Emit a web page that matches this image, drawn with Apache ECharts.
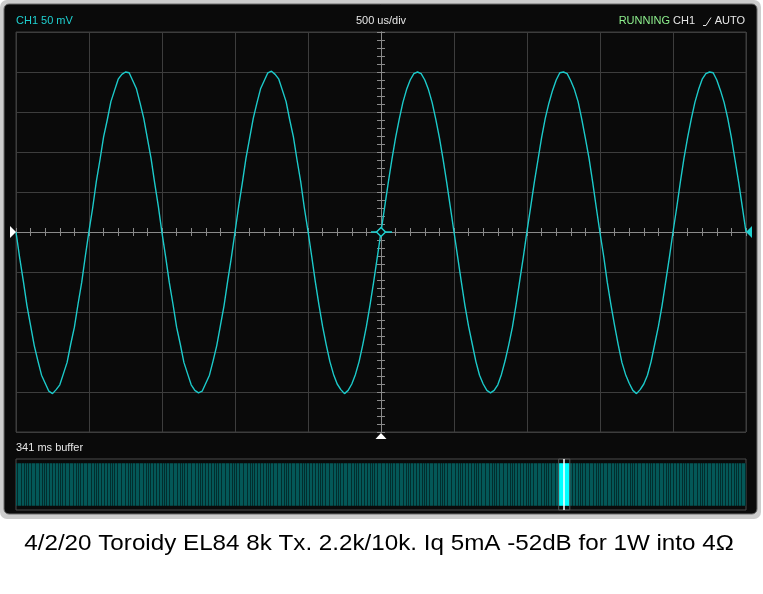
<!DOCTYPE html>
<html><head><meta charset="utf-8">
<script src="https://cdn.jsdelivr.net/npm/echarts@6/dist/echarts.min.js"></script>
<style>html,body{margin:0;padding:0;background:#fff}#c{width:763px;height:594px}</style>
</head><body><div id="c"></div>
<script>
// ---- data ----
const channelLabel = 'CH1 50 mV';
const timebaseLabel = '500 us/div';
const statusLabel = 'RUNNING';
const triggerLabelA = 'CH1';
const triggerLabelB = 'AUTO';
const bufferLabel = '341 ms buffer';
const caption = '4/2/20 Toroidy EL84 8k Tx. 2.2k/10k. Iq 5mA -52dB for 1W into 4Ω';

const timeStartMs = -2.5;      // left edge of screen
const sampleStepMs = 0.025;    // one reading every 25 us
const ch1mV = [
  0,-32,-61,-92,-117,-142,-161,-179,-189,-199,-202,-197,-191,-177,-163,-140,-119,-90,-63,-30,
  1,30,63,90,119,140,163,177,191,197,200,199,189,179,161,142,117,92,61,32,
  -1,-31,-63,-90,-119,-140,-163,-177,-191,-198,-201,-199,-189,-179,-161,-142,-117,-92,-61,-32,
  0,32,61,92,117,142,161,179,189,199,201,197,191,177,163,140,119,90,63,30,
  1,-30,-62,-91,-118,-141,-162,-178,-190,-197,-202,-198,-190,-178,-162,-141,-118,-91,-62,-31,
  0,31,62,91,118,141,162,178,190,198,200,198,190,178,162,141,118,91,62,31,
  0,-31,-62,-92,-118,-140,-162,-179,-190,-198,-201,-198,-191,-178,-161,-141,-119,-91,-61,-31,
  1,31,62,90,118,142,161,177,190,199,200,198,189,178,163,141,117,92,62,30,
  -1,-30,-63,-91,-117,-141,-163,-178,-189,-198,-202,-197,-190,-179,-162,-140,-118,-92,-62,-32,
  0,30,62,92,118,141,162,178,191,198,200,199,190,177,162,142,118,90,62,31,
  0
];
const timeAxis = [-2.5, 2.5, 0.5];   // min, max, ms per division
const voltAxis = [-250, 250, 50];    // min, max, mV per division
const triggerTimeMs = 0;
const triggerLevelmV = 0;

const bufferLengthMs = 341;
const bufferAmplitude = [-200, 200];
const bufferAxis = [-240, 240];
const viewWindowMs = [253.6, 258.6];
const bufferTriggerMs = 256.1;

// ---- styles ----
const TRACE = '#1ccaca';
const GRIDC = '#3d3d3d';
const AXISC = '#8a8a8a';
const FONT = '"Liberation Sans", Arial, sans-serif';

function stripePattern(){
  const c = document.createElement('canvas'); c.width = 52; c.height = 4;
  const g = c.getContext('2d');
  g.fillStyle = '#045858'; g.fillRect(0,0,52,4);
  g.fillStyle = '#022e2e';
  [0,3,6,8,10,13,17,21,24,26,28,31,35,39,42,44,46,49].forEach(x => g.fillRect(x,0,1,4));
  return c;
}

const traceData = ch1mV.map((v,i) => [timeStartMs + i*sampleStepMs, v]);

function centerAxisX(inside){
  return {type:'value', gridIndex:0, min:timeAxis[0], max:timeAxis[1], interval:timeAxis[2], position:'bottom',
    axisLabel:{show:false},
    axisLine:{show:true, onZero:true, lineStyle:{color:AXISC, width:1}},
    axisTick:{show:true, inside:inside, length:4, lineStyle:{color:AXISC}},
    minorTick:{show:true, splitNumber:5, length:4, lineStyle:{color:AXISC}},
    splitLine:{show:inside, lineStyle:{color:GRIDC, width:1}}};
}
function centerAxisY(inside){
  return {type:'value', gridIndex:0, min:voltAxis[0], max:voltAxis[1], interval:voltAxis[2], position:'left',
    axisLabel:{show:false},
    axisLine:{show:true, onZero:true, lineStyle:{color:AXISC, width:1}},
    axisTick:{show:true, inside:inside, length:4, lineStyle:{color:AXISC}},
    minorTick:{show:true, splitNumber:5, length:4, lineStyle:{color:AXISC}},
    splitLine:{show:inside, lineStyle:{color:GRIDC, width:1}}};
}

const chart = echarts.init(document.getElementById('c'), null, {renderer:'canvas'});
chart.setOption({
  backgroundColor:'#ffffff',
  animation:false,
  grid:[
    {left:16, top:32, width:730, height:400, show:true, borderColor:GRIDC, borderWidth:1, backgroundColor:'transparent'},
    {left:16, top:459, width:730, height:51, show:true, borderColor:'#4a4a4a', borderWidth:1, backgroundColor:'transparent'}
  ],
  xAxis:[
    centerAxisX(true), centerAxisX(false),
    {type:'value', gridIndex:1, min:0, max:bufferLengthMs, show:false}
  ],
  yAxis:[
    centerAxisY(true), centerAxisY(false),
    {type:'value', gridIndex:1, min:bufferAxis[0], max:bufferAxis[1], show:false}
  ],
  series:[
    {type:'line', xAxisIndex:0, yAxisIndex:0, data:traceData, showSymbol:false, smooth:false, z:5,
     lineStyle:{color:TRACE, width:1.4}},
    {type:'line', xAxisIndex:2, yAxisIndex:2, data:[[0,0],[bufferLengthMs,0]], showSymbol:false,
     lineStyle:{opacity:0}, silent:true,
     markArea:{silent:true, data:[
       [{xAxis:0, yAxis:bufferAmplitude[0], itemStyle:{color:{image:stripePattern(), repeat:'repeat'}}},
        {xAxis:bufferLengthMs, yAxis:bufferAmplitude[1]}],
       [{xAxis:viewWindowMs[0], yAxis:bufferAmplitude[0], itemStyle:{color:'#00ffff'}},
        {xAxis:viewWindowMs[1], yAxis:bufferAmplitude[1]}],
       [{xAxis:viewWindowMs[0]-0.1, yAxis:bufferAxis[0], itemStyle:{color:'rgba(0,0,0,0)', borderColor:'#555', borderWidth:1}},
        {xAxis:viewWindowMs[1]+0.1, yAxis:bufferAxis[1]}]
     ]},
     markLine:{silent:true, symbol:'none', label:{show:false},
       lineStyle:{color:'#ffffff', width:1.5, type:'solid'},
       data:[[{coord:[bufferTriggerMs, bufferAxis[0]]},{coord:[bufferTriggerMs, bufferAxis[1]]}]]}
    }
  ],
  graphic:{elements:[
    {id:'frameOuter', type:'rect', z:-10, shape:{x:0,y:0,width:761,height:519,r:7}, style:{fill:'#cdcdcd'}},
    {id:'frameInner', type:'rect', z:-9, shape:{x:4,y:4,width:753,height:510,r:5}, style:{fill:'#0a0a0a', stroke:'#6a6a6a', lineWidth:1}},
    {id:'tCh', type:'text', z:10, x:16, y:21, style:{text:channelLabel, font:'11px '+FONT, fill:'#1fd0d0', verticalAlign:'middle'}},
    {id:'tTb', type:'text', z:10, x:381, y:21, style:{text:timebaseLabel, font:'11px '+FONT, fill:'#e6e6e6', align:'center', verticalAlign:'middle'}},
    {id:'tRun', type:'text', z:10, x:670, y:21, style:{text:statusLabel, font:'11px '+FONT, fill:'#8ef08e', align:'right', verticalAlign:'middle'}},
    {id:'tCh1', type:'text', z:10, x:695, y:21, style:{text:triggerLabelA, font:'11px '+FONT, fill:'#e6e6e6', align:'right', verticalAlign:'middle'}},
    {id:'tSlope', type:'polyline', z:10, shape:{points:[[703,25.5],[706,25.5],[711,17.5]]}, style:{stroke:'#e6e6e6', lineWidth:1, fill:null}},
    {id:'tAuto', type:'text', z:10, x:745, y:21, style:{text:triggerLabelB, font:'11px '+FONT, fill:'#e6e6e6', align:'right', verticalAlign:'middle'}},
    {id:'tBuf', type:'text', z:10, x:16, y:448, style:{text:bufferLabel, font:'11px '+FONT, fill:'#e6e6e6', verticalAlign:'middle'}},
    {id:'cap', type:'text', z:10, x:379, y:544, scaleX:1.1, scaleY:1.0, originX:0, originY:0,
     style:{text:caption, font:'22px '+FONT, fill:'#000', align:'center', verticalAlign:'middle'}}
  ]}
});

// markers placed through the axes' own scale
const pL = chart.convertToPixel({gridIndex:0}, [timeAxis[0], 0]);
const pR = chart.convertToPixel({gridIndex:0}, [timeAxis[1], triggerLevelmV]);
const pB = chart.convertToPixel({gridIndex:0}, [triggerTimeMs, voltAxis[0]]);
const pC = chart.convertToPixel({gridIndex:0}, [triggerTimeMs, triggerLevelmV]);
chart.setOption({graphic:{elements:[
  {id:'mL', type:'polygon', z:20, shape:{points:[[pL[0]-6,pL[1]-6],[pL[0],pL[1]],[pL[0]-6,pL[1]+6]]}, style:{fill:'#ffffff'}},
  {id:'mR', type:'polygon', z:20, shape:{points:[[pR[0]+6,pR[1]-6],[pR[0],pR[1]],[pR[0]+6,pR[1]+6]]}, style:{fill:'#1fd0d0'}},
  {id:'mB', type:'polygon', z:20, shape:{points:[[pB[0],pB[1]+1],[pB[0]-5.5,pB[1]+7],[pB[0]+5.5,pB[1]+7]]}, style:{fill:'#ffffff'}},
  {id:'mCl', type:'line', z:20, shape:{x1:pC[0]-10,y1:pC[1],x2:pC[0]+11,y2:pC[1]}, style:{stroke:'#1fd0d0', lineWidth:1.5}},
  {id:'mCd', type:'polygon', z:21, shape:{points:[[pC[0]-4.5,pC[1]],[pC[0],pC[1]-4.5],[pC[0]+4.5,pC[1]],[pC[0],pC[1]+4.5]]}, style:{fill:'#0a0a0a', stroke:'#1fd0d0', lineWidth:1.5}}
]}});
</script>
</body></html>
